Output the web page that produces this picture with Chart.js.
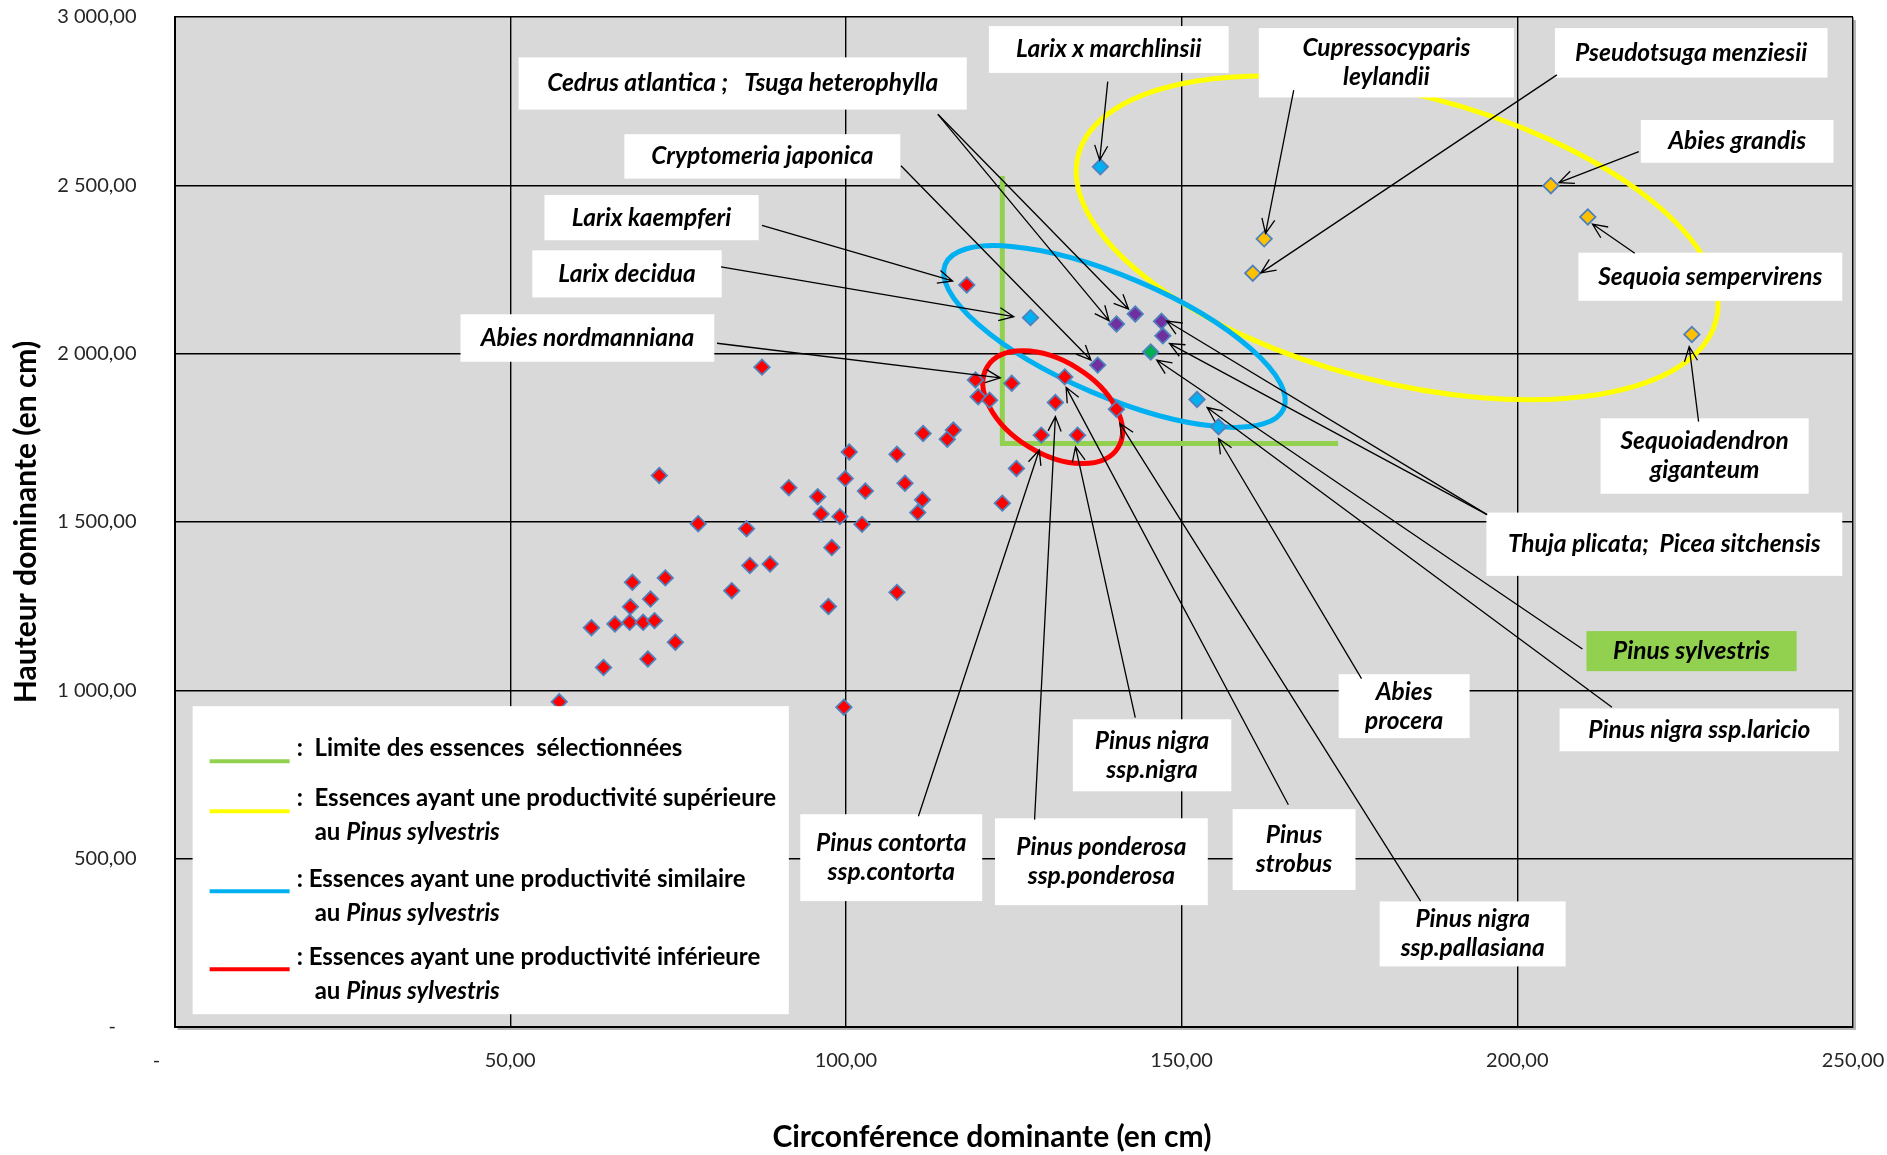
<!DOCTYPE html>
<html>
<head>
<meta charset="utf-8">
<script src="https://cdn.jsdelivr.net/npm/chart.js@4"></script>
<style>
body { margin: 0; background: #fff; }
#wrap { width: 1887px; height: 1155px; position: relative; }
</style>
</head>
<body>
<div id="wrap"><canvas id="myChart"></canvas></div>
<script>
// circonférence dominante (cm), hauteur dominante (cm)
var redPts = [[57.3, 966], [62.1, 1186], [63.9, 1068], [65.6, 1197], [67.8, 1202], [67.9, 1248], [68.2, 1321],
  [69.8, 1202], [70.5, 1093], [70.9, 1271], [71.5, 1207], [72.2, 1638], [73.1, 1334], [74.6, 1143], [78.0, 1495],
  [83.0, 1296], [85.2, 1480], [85.7, 1371], [87.5, 1960], [88.7, 1375], [91.5, 1602], [95.8, 1575], [96.3, 1524],
  [97.4, 1249], [97.9, 1424], [99.1, 1516], [99.7, 950], [99.9, 1629], [100.5, 1708], [102.4, 1493], [102.9, 1592],
  [107.6, 1701], [107.6, 1291], [108.8, 1615], [110.7, 1528], [111.4, 1566], [111.5, 1763], [115.1, 1746],
  [116.0, 1773], [118.0, 2204], [119.3, 1922], [119.7, 1872], [121.4, 1862], [123.3, 1556], [124.7, 1912],
  [125.4, 1659], [129.1, 1758], [131.2, 1855], [132.6, 1931], [134.5, 1758], [140.3, 1835]];
var bluePts = [[137.9, 2555], [127.5, 2107], [152.3, 1864], [155.5, 1783]];
var purplePts = [[140.3, 2088], [143.1, 2118], [147.0, 2096], [147.2, 2053], [137.5, 1966]];
var greenPts = [[145.4, 2005]];
var orangePts = [[162.3, 2341], [160.6, 2239], [205.0, 2499], [210.5, 2406], [226.0, 2057]];
var limitLine = [[123.3, 2528], [123.3, 1733], [173.3, 1733]];

var xTicks = [0, 50, 100, 150, 200, 250];
var yTicks = [0, 500, 1000, 1500, 2000, 2500, 3000];

// ellipses : centre, demi-axes (unités des données)
var ellipses = [
  {color: '#ffff00', c: [182.1, 2344], u: [47.5, -245.4], v: [-5.36, -413.4]},
  {color: '#00b0f0', c: [140.0, 2051], u: [25.2, -214.6], v: [-3.5, -163.8]},
  {color: '#ff0000', c: [130.8, 1841], u: [9.75, -119.8], v: [-3.6, -117.0]}
];

// étiquettes : cadre [x1, yHaut, x2, yBas], lignes, flèches [départ, pointe]
var labels = [
  {box: [51.25, 2880, 118.0, 2725], lines: ['Cedrus atlantica ;   Tsuga heterophylla'],
    arrows: [[[113.7, 2711], [139.2, 2098]], [[113.7, 2711], [142.1, 2132]]]},
  {box: [67.0, 2652, 108.1, 2520], lines: ['Cryptomeria japonica'], arrows: [[[108.2, 2558], [136.5, 1981]]]},
  {box: [55.1, 2471, 87.0, 2337], lines: ['Larix kaempferi'], arrows: [[[87.5, 2381], [115.9, 2216]]]},
  {box: [53.3, 2307, 81.5, 2167], lines: ['Larix decidua'], arrows: [[[81.4, 2258], [125.0, 2110]]]},
  {box: [42.6, 2117, 80.4, 1976], lines: ['Abies nordmanniana'], arrows: [[[80.8, 2031], [123.0, 1928]]]},
  {box: [121.3, 2973, 157.0, 2834], lines: ['Larix x marchlinsii'], arrows: [[[139.0, 2808], [137.8, 2575]]]},
  {box: [161.5, 2967, 199.5, 2761], lines: ['Cupressocyparis', 'leylandii'], arrows: [[[166.7, 2783], [162.5, 2357]]]},
  {box: [205.6, 2967, 246.2, 2820], lines: ['Pseudotsuga menziesii'], arrows: [[[205.9, 2828], [161.8, 2240]]]},
  {box: [218.4, 2694, 247.1, 2567], lines: ['Abies grandis'], arrows: [[[218.1, 2600], [206.2, 2508]]]},
  {box: [209.1, 2300, 248.4, 2157], lines: ['Sequoia sempervirens'], arrows: [[[217.5, 2298], [211.2, 2385]]]},
  {box: [212.4, 1808, 243.4, 1584], lines: ['Sequoiadendron', 'giganteum'], arrows: [[[227.0, 1798], [225.6, 2021]]]},
  {box: [195.4, 1528, 248.4, 1340], lines: ['Thuja plicata;  Picea sitchensis'],
    arrows: [[[195.5, 1522], [147.8, 2097]], [[195.5, 1522], [148.2, 2030]]]},
  {box: [210.3, 1176, 241.6, 1057], lines: ['Pinus sylvestris'], fill: '#92d050', arrows: [[[209.7, 1123], [146.3, 1981]]]},
  {box: [206.3, 946, 247.9, 819], lines: ['Pinus nigra ssp.laricio'], arrows: [[[214.1, 950], [153.8, 1840]]]},
  {box: [173.4, 1048, 192.9, 858], lines: ['Abies', 'procera'], arrows: [[[176.8, 1035], [155.5, 1748]]]},
  {box: [133.8, 914, 157.4, 700], lines: ['Pinus nigra', 'ssp.nigra'], arrows: [[[143.1, 919], [134.2, 1723]]]},
  {box: [93.2, 632, 120.3, 374], lines: ['Pinus contorta', 'ssp.contorta'], arrows: [[[110.8, 626], [128.8, 1714]]]},
  {box: [122.2, 620, 153.9, 362], lines: ['Pinus ponderosa', 'ssp.ponderosa'], arrows: [[[128.1, 616], [131.2, 1813]]]},
  {box: [157.6, 647, 175.9, 407], lines: ['Pinus', 'strobus'], arrows: [[[165.9, 660], [132.8, 1900]]]},
  {box: [179.5, 373, 207.2, 180], lines: ['Pinus nigra', 'ssp.pallasiana'], arrows: [[[185.6, 374], [140.8, 1793]]]}
];

var legendBox = [2.7, 953, 91.5, 38];
var legendItems = [
  {color: '#92d050', text: ':  Limite des essences  sélectionnées', second: false},
  {color: '#ffff00', text: ':  Essences ayant une productivité supérieure', second: true},
  {color: '#00b0f0', text: ': Essences ayant une productivité similaire', second: true},
  {color: '#ff0000', text: ': Essences ayant une productivité inférieure', second: true}
];

var FONT = 'Lato, "Open Sans", "DejaVu Sans", sans-serif';

function frNum(v) {
  if (v === 0) return '-';
  var parts = v.toFixed(2).split('.');
  parts[0] = parts[0].replace(/\B(?=(\d{3})+(?!\d))/g, ' ');
  return parts.join(',');
}

function toXY(arr) {
  return arr.map(p => ({x: p[0], y: p[1]}));
}

function px(chart, p) {
  return [chart.scales.x.getPixelForValue(p[0]), chart.scales.y.getPixelForValue(p[1])];
}

function drawSegs(ctx, segs, x, y, align, size) {
  var widths = segs.map(s => {
    ctx.font = (s[1] ? 'italic ' : '') + 'bold ' + size + 'px ' + FONT;
    return ctx.measureText(s[0]).width;
  });
  var total = widths.reduce((a, b) => a + b, 0);
  var start = align === 'center' ? x - total / 2 : x;
  segs.forEach((s, i) => {
    ctx.font = (s[1] ? 'italic ' : '') + 'bold ' + size + 'px ' + FONT;
    ctx.textAlign = 'left';
    ctx.textBaseline = 'middle';
    ctx.fillStyle = '#000';
    ctx.fillText(s[0], start, y);
    start += widths[i];
  });
}

function drawArrow(ctx, a, b) {
  ctx.beginPath();
  ctx.moveTo(a[0], a[1]);
  ctx.lineTo(b[0], b[1]);
  var ang = Math.atan2(a[1] - b[1], a[0] - b[0]);
  var len = 16, spread = 0.42;
  ctx.moveTo(b[0] + len * Math.cos(ang + spread), b[1] + len * Math.sin(ang + spread));
  ctx.lineTo(b[0], b[1]);
  ctx.lineTo(b[0] + len * Math.cos(ang - spread), b[1] + len * Math.sin(ang - spread));
  ctx.stroke();
}

var overlay = {
  id: 'overlay',
  afterDatasetDraw(chart, args) {
    if (args.index !== 5) return;
    var ctx = chart.ctx;
    ellipses.forEach(e => {
      var c = px(chart, e.c);
      var cu = px(chart, [e.c[0] + e.u[0], e.c[1] + e.u[1]]);
      var cv = px(chart, [e.c[0] + e.v[0], e.c[1] + e.v[1]]);
      ctx.save();
      ctx.beginPath();
      ctx.transform(cu[0] - c[0], cu[1] - c[1], cv[0] - c[0], cv[1] - c[1], c[0], c[1]);
      ctx.arc(0, 0, 1, 0, Math.PI * 2);
      ctx.restore();
      ctx.save();
      ctx.strokeStyle = e.color;
      ctx.lineWidth = 5;
      ctx.stroke();
      ctx.restore();
    });
  },
  afterDatasetsDraw(chart) {
    var ctx = chart.ctx;
    ctx.save();
    // cadres
    labels.forEach(l => {
      var p1 = px(chart, [l.box[0], l.box[1]]);
      var p2 = px(chart, [l.box[2], l.box[3]]);
      ctx.fillStyle = l.fill || '#ffffff';
      ctx.fillRect(p1[0], p1[1], p2[0] - p1[0], p2[1] - p1[1]);
    });
    // légende
    var lb1 = px(chart, [legendBox[0], legendBox[1]]);
    var lb2 = px(chart, [legendBox[2], legendBox[3]]);
    ctx.fillStyle = '#ffffff';
    ctx.fillRect(lb1[0], lb1[1], lb2[0] - lb1[0], lb2[1] - lb1[1]);
    var rowY = [[42, 55], [92, 105], [173, 185], [251, 263]];
    legendItems.forEach((it, i) => {
      ctx.strokeStyle = it.color;
      ctx.lineWidth = 4;
      ctx.beginPath();
      ctx.moveTo(lb1[0] + 17, lb1[1] + rowY[i][1]);
      ctx.lineTo(lb1[0] + 97, lb1[1] + rowY[i][1]);
      ctx.stroke();
      drawSegs(ctx, [[it.text, false]], lb1[0] + 104, lb1[1] + rowY[i][0], 'left', 24);
      if (it.second) {
        drawSegs(ctx, [['au ', false], ['Pinus sylvestris', true]], lb1[0] + 122, lb1[1] + rowY[i][0] + 34, 'left', 24);
      }
    });
    // flèches
    ctx.strokeStyle = '#000';
    ctx.lineWidth = 1.3;
    labels.forEach(l => {
      l.arrows.forEach(a => drawArrow(ctx, px(chart, a[0]), px(chart, a[1])));
    });
    // textes
    labels.forEach(l => {
      var p1 = px(chart, [l.box[0], l.box[1]]);
      var p2 = px(chart, [l.box[2], l.box[3]]);
      var cx = (p1[0] + p2[0]) / 2, cy = (p1[1] + p2[1]) / 2;
      var n = l.lines.length, lh = 29;
      l.lines.forEach((t, i) => {
        drawSegs(ctx, [[t, true]], cx, cy + (i - (n - 1) / 2) * lh, 'center', 24.5);
      });
    });
    ctx.restore();
  }
};

var pointBase = {
  type: 'scatter',
  pointStyle: 'rectRot',
  pointRadius: 7.7,
  pointHoverRadius: 7.7,
  borderColor: '#4f81bd',
  borderWidth: 1.8,
  order: 0
};

var ctx = document.getElementById('myChart').getContext('2d');
var myChart = new Chart(ctx, {
  type: 'scatter',
  data: {
    datasets: [
      Object.assign({}, pointBase, {label: 'rouge', data: toXY(redPts), backgroundColor: '#ff0000'}),
      Object.assign({}, pointBase, {label: 'bleu', data: toXY(bluePts), backgroundColor: '#00b0f0'}),
      Object.assign({}, pointBase, {label: 'violet', data: toXY(purplePts), backgroundColor: '#7030a0'}),
      Object.assign({}, pointBase, {label: 'vert', data: toXY(greenPts), backgroundColor: '#00b050'}),
      Object.assign({}, pointBase, {label: 'orange', data: toXY(orangePts), backgroundColor: '#ffc000'}),
      {
        type: 'line', label: 'limite', data: toXY(limitLine), showLine: true,
        borderColor: '#92d050', borderWidth: 5, pointRadius: 0, fill: false, order: 5
      }
    ]
  },
  options: {
    responsive: true,
    maintainAspectRatio: false,
    animation: false,
    layout: {padding: {top: 17, right: 34, left: 0, bottom: 0}},
    plugins: {legend: {display: false}, tooltip: {enabled: false}},
    scales: {
      x: {
        type: 'linear', min: 0, max: 250,
        afterBuildTicks: s => { s.ticks = xTicks.map(v => ({value: v})); },
        afterFit: s => { s.height = 128; },
        grid: {color: '#000', lineWidth: 1.4, drawTicks: true, tickLength: 20, tickColor: 'rgba(0,0,0,0)'},
        border: {display: true, color: '#000', width: 2},
        ticks: {
          padding: 2, maxRotation: 0, autoSkip: false, color: '#262626',
          font: {family: FONT, size: 20},
          callback: v => v === 0 ? '-       ' : frNum(v)
        },
        title: {
          display: true, text: 'Circonférence dominante (en cm)      ', color: '#000',
          font: {family: FONT, size: 30, weight: 'bold'}, padding: {top: 0, bottom: 0}
        }
      },
      y: {
        type: 'linear', min: 0, max: 3000,
        afterBuildTicks: s => { s.ticks = yTicks.map(v => ({value: v})); },
        afterFit: s => { s.width = 174.5; },
        grid: {color: '#000', lineWidth: 1.4, drawTicks: true, tickLength: 36, tickColor: 'rgba(0,0,0,0)'},
        border: {display: true, color: '#000', width: 2},
        ticks: {
          padding: 2, color: '#262626',
          font: {family: FONT, size: 20},
          callback: v => v === 0 ? '-    ' : frNum(v)
        },
        title: {
          display: true, text: 'Hauteur dominante (en cm)', color: '#000',
          font: {family: FONT, size: 30, weight: 'bold'}, padding: {top: 8, bottom: 0}
        }
      }
    }
  },
  plugins: [overlay, {
    id: 'plotBg',
    beforeDraw(chart) {
      var a = chart.chartArea;
      var c = chart.ctx;
      c.save();
      c.fillStyle = '#b8b8b8';
      c.fillRect(a.left + 3, a.top + 3, a.right - a.left, a.bottom - a.top);
      c.fillStyle = '#d9d9d9';
      c.fillRect(a.left, a.top, a.right - a.left, a.bottom - a.top);
      c.restore();
    }
  }]
});
</script>
</body>
</html>
